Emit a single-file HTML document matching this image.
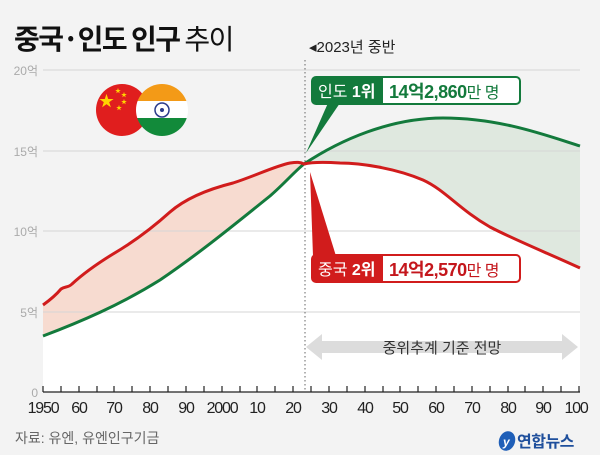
<!DOCTYPE html>
<html><head><meta charset="utf-8"><style>
body{margin:0;background:#f3f3f3;}
svg{display:block;font-family:"Liberation Sans","Noto Sans CJK KR",sans-serif;}
</style></head><body>
<svg width="600" height="455" viewBox="0 0 600 455" xmlns="http://www.w3.org/2000/svg">
<rect width="600" height="455" fill="#f3f3f3"/>
<text x="14" y="49" font-size="28" font-weight="bold" fill="#111" font-family="'Noto Sans CJK KR',sans-serif" letter-spacing="-1.5">중국·인도 인구 <tspan font-weight="normal">추이</tspan></text>
<path d="M43,336 C80,322 120,305 160,280 C200,253 240,220 270,196 C285,183 295,171 304,164 C340,140 390,118 443,118 C500,118 545,135 580,146 L580,392 L43,392 Z" fill="#fff"/>
<path d="M43,305 C50,300 56,295 61,289 C65,286 68,288 72,284 C85,272 100,262 113,254 C130,244 150,230 170,212 C185,199 205,190 233,183 C255,176 275,166 290,163 C297,162 300,162 304,164 C295,171 285,183 270,196 C240,220 200,253 160,280 C120,305 80,322 43,336 Z" fill="#f7dbd0"/>
<path d="M304,164 C340,140 390,118 443,118 C500,118 545,135 580,146 L580,268 C545,252 515,240 490,227 C460,210 445,190 423,180 C395,168 360,163 340,163 C325,162 312,162 304,164 Z" fill="#dfe8df"/>
<g stroke="#d6d6d6" stroke-width="1">
<line x1="43" y1="70" x2="580" y2="70"/><line x1="43" y1="151" x2="580" y2="151"/>
<line x1="43" y1="231" x2="580" y2="231"/><line x1="43" y1="312" x2="580" y2="312"/>
</g>
<g font-size="12" fill="#aaa" text-anchor="end"><text x="38" y="75">20억</text><text x="38" y="156">15억</text><text x="38" y="236">10억</text><text x="38" y="317">5억</text><text x="38" y="397">0</text></g>
<line x1="305" y1="60" x2="305" y2="392" stroke="#666" stroke-dasharray="1.5,2.5"/>
<text x="309" y="52" font-size="15" fill="#222">◂2023년 중반</text>
<circle cx="122" cy="110" r="26" fill="#e01e1e"/>
<text x="99" y="106" font-size="15" fill="#ffd400">★</text>
<g fill="#ffd400" font-size="6"><text x="115" y="93">★</text><text x="121" y="97">★</text><text x="121" y="104">★</text><text x="116" y="110">★</text></g>
<clipPath id="ci"><circle cx="162" cy="110" r="26"/></clipPath>
<g clip-path="url(#ci)"><rect x="130" y="80" width="70" height="21" fill="#f39a17"/><rect x="130" y="101" width="70" height="17" fill="#fff"/><rect x="130" y="118" width="70" height="22" fill="#128a3a"/></g>
<circle cx="162" cy="110" r="7" fill="none" stroke="#2a3a8a" stroke-width="1.5"/><circle cx="162" cy="110" r="2" fill="#2a3a8a"/>
<path d="M43,336 C80,322 120,305 160,280 C200,253 240,220 270,196 C285,183 295,171 304,164 C340,140 390,118 443,118 C500,118 545,135 580,146" fill="none" stroke="#137a3c" stroke-width="3"/>
<path d="M43,305 C50,300 56,295 61,289 C65,286 68,288 72,284 C85,272 100,262 113,254 C130,244 150,230 170,212 C185,199 205,190 233,183 C255,176 275,166 290,163 C297,162 300,162 304,164 C312,162 325,162 340,163 C360,163 395,168 423,180 C445,190 460,210 490,227 C515,240 545,252 580,268" fill="none" stroke="#d11c1c" stroke-width="3"/>
<path d="M328,103 L340,103 L306,153 Z" fill="#137a3c"/>
<path d="M313,256 L336,256 L310,172 Z" fill="#d11c1c"/>
<rect x="312" y="77" width="208" height="27" rx="4" fill="#fff" stroke="#137a3c" stroke-width="2"/>
<path d="M316,77 H383 V104 H316 A4,4 0 0 1 312,100 V81 A4,4 0 0 1 316,77 Z" fill="#137a3c"/>
<text x="318" y="97" font-size="16" fill="#fff">인도 <tspan font-weight="bold">1위</tspan></text>
<text x="389" y="98" font-size="18" font-weight="bold" fill="#137a3c" letter-spacing="-0.5">14억2,860<tspan font-weight="normal" font-size="16">만 명</tspan></text>
<rect x="312" y="255" width="208" height="27" rx="4" fill="#fff" stroke="#d11c1c" stroke-width="2"/>
<path d="M316,255 H383 V282 H316 A4,4 0 0 1 312,278 V259 A4,4 0 0 1 316,255 Z" fill="#d11c1c"/>
<text x="318" y="275" font-size="16" fill="#fff">중국 <tspan font-weight="bold">2위</tspan></text>
<text x="389" y="276" font-size="18" font-weight="bold" fill="#c4161c" letter-spacing="-0.5">14억2,570<tspan font-weight="normal" font-size="16">만 명</tspan></text>
<path d="M306,347 L322,334 L322,341 L562,341 L562,334 L578,347 L562,360 L562,353 L322,353 L322,360 Z" fill="#dcdcdc"/>
<text x="442" y="353" font-size="15" fill="#333" text-anchor="middle">중위추계 기준 전망</text>
<line x1="43" y1="392" x2="580" y2="392" stroke="#222" stroke-width="1.2"/>
<path d="M43,386V392M61,386V392M79,386V392M97,386V392M114,386V392M132,386V392M150,386V392M168,386V392M186,386V392M204,386V392M222,386V392M240,386V392M257,386V392M275,386V392M293,386V392M311,386V392M329,386V392M347,386V392M365,386V392M383,386V392M400,386V392M418,386V392M436,386V392M454,386V392M472,386V392M490,386V392M508,386V392M525,386V392M543,386V392M561,386V392M579,386V392" stroke="#222" stroke-width="1.2"/>
<g font-size="16" fill="#222" text-anchor="middle" letter-spacing="-1.2">
<text x="43" y="413">1950</text><text x="79" y="413">60</text><text x="114" y="413">70</text><text x="150" y="413">80</text><text x="186" y="413">90</text><text x="222" y="413">2000</text><text x="257" y="413">10</text><text x="293" y="413">20</text><text x="329" y="413">30</text><text x="365" y="413">40</text><text x="400" y="413">50</text><text x="436" y="413">60</text><text x="472" y="413">70</text><text x="508" y="413">80</text><text x="543" y="413">90</text><text x="576" y="413">100</text>
</g>
<text x="15" y="443" font-size="14" fill="#666">자료: 유엔, 유엔인구기금</text>
<ellipse cx="507" cy="441" rx="8" ry="10" fill="#1f5fb8" transform="rotate(20 507 441)"/>
<text x="503" y="446" font-size="12" font-weight="bold" fill="#fff" font-style="italic">y</text>
<text x="517" y="447" font-size="16" font-weight="bold" fill="#1f4f9c" letter-spacing="-0.5">연합뉴스</text>
</svg>
</body></html>
